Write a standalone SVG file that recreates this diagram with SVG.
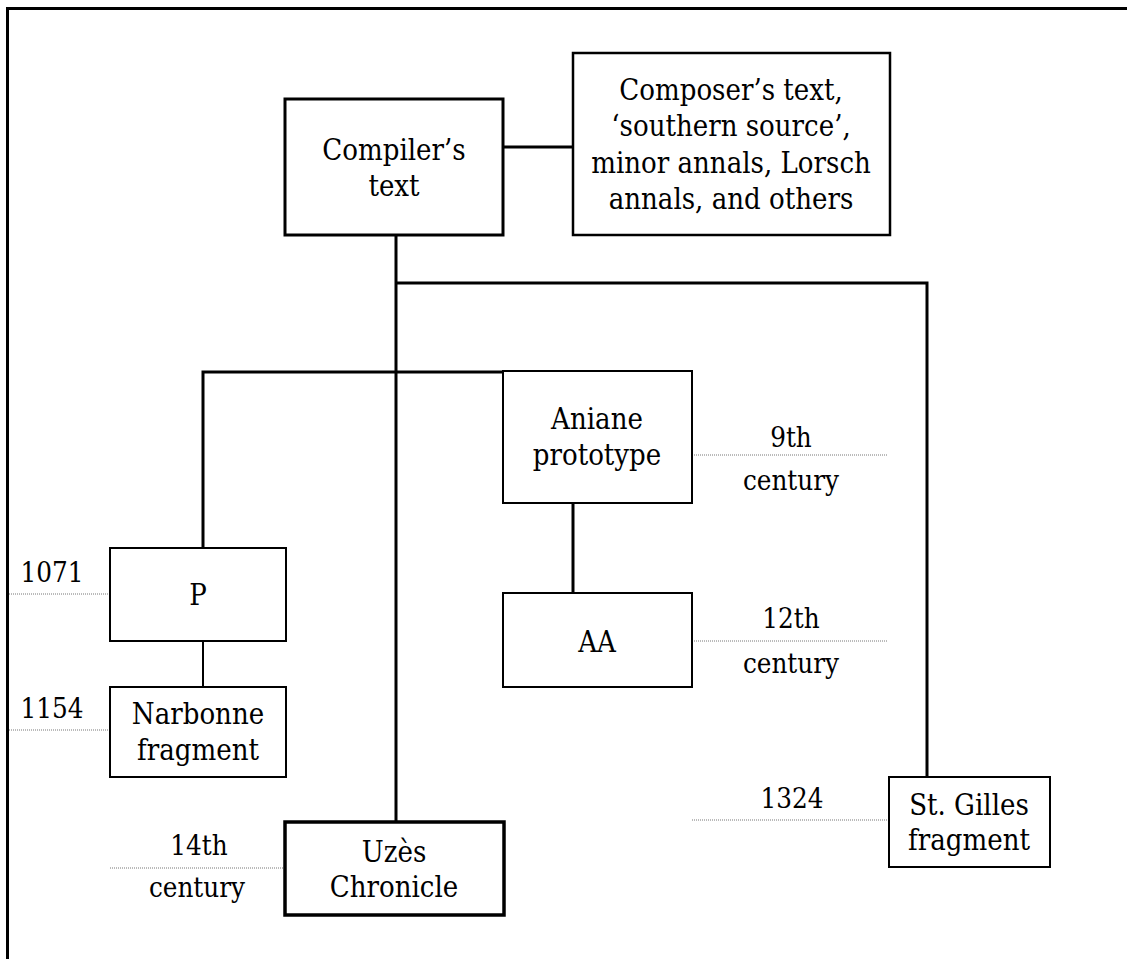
<svg xmlns="http://www.w3.org/2000/svg" width="1127" height="959" viewBox="0 0 1127 959">
<style>
  .box { fill: #fff; stroke: #000; stroke-width: 2; }
  .thick { stroke-width: 3; }
  .heavy { stroke-width: 3.5; }
  .mid { stroke-width: 2.5; }
  .con { stroke: #000; stroke-width: 3; fill: none; }
  .thin { stroke-width: 2; }
  .dot { stroke: #777; stroke-width: 1; stroke-dasharray: 1 1; fill: none; }
  text { font-family: 'DejaVu Serif Condensed', 'DejaVu Serif', serif; font-stretch: condensed; font-size: 29px; fill: #000; text-anchor: middle; }
  #dates text { font-size: 27.5px; }
</style>
<rect width="1127" height="959" fill="#fff"/>
<g id="frame">
  <path d="M7.5 959 V8.5 H1127" fill="none" stroke="#000" stroke-width="3"/>
</g>
<g id="connectors">
  <line class="con" x1="503" y1="147" x2="573" y2="147"/>
  <line class="con" x1="396" y1="235" x2="396" y2="822"/>
  <polyline class="con" points="396,283 927,283 927,777"/>
  <polyline class="con" points="502,372 203,372 203,548"/>
  <line class="con" x1="573" y1="503" x2="573" y2="593"/>
  <line class="con thin" x1="203" y1="641" x2="203" y2="687"/>
</g>
<g id="datelines">
  <line class="dot" x1="692" y1="455" x2="888" y2="455"/>
  <line class="dot" x1="692" y1="641" x2="888" y2="641"/>
  <line class="dot" x1="9" y1="594" x2="110" y2="594"/>
  <line class="dot" x1="9" y1="730" x2="110" y2="730"/>
  <line class="dot" x1="110" y1="868" x2="285" y2="868"/>
  <line class="dot" x1="692" y1="820" x2="889" y2="820"/>
</g>
<g id="compiler">
  <rect class="box thick" x="285" y="99" width="218" height="136"/>
  <text x="394" y="160">Compiler’s</text>
  <text x="394" y="196">text</text>
</g>
<g id="composer">
  <rect class="box mid" x="573" y="53" width="317" height="182"/>
  <text x="731" y="100">Composer’s text,</text>
  <text x="731" y="136">‘southern source’,</text>
  <text x="731" y="173">minor annals, Lorsch</text>
  <text x="731" y="209">annals, and others</text>
</g>
<g id="aniane">
  <rect class="box" x="503" y="371" width="189" height="132"/>
  <text x="597" y="429">Aniane</text>
  <text x="597" y="465">prototype</text>
</g>
<g id="aa">
  <rect class="box" x="503" y="593" width="189" height="94"/>
  <text x="597" y="652">AA</text>
</g>
<g id="p">
  <rect class="box" x="110" y="548" width="176" height="93"/>
  <text x="198" y="605">P</text>
</g>
<g id="narbonne">
  <rect class="box" x="110" y="687" width="176" height="90"/>
  <text x="198" y="724">Narbonne</text>
  <text x="198" y="760">fragment</text>
</g>
<g id="uzes">
  <rect class="box heavy" x="285" y="822" width="219" height="93"/>
  <text x="394" y="862">Uzès</text>
  <text x="394" y="897">Chronicle</text>
</g>
<g id="stgilles">
  <rect class="box" x="889" y="777" width="161" height="90"/>
  <text x="969" y="815">St. Gilles</text>
  <text x="969" y="850">fragment</text>
</g>
<g id="dates">
  <text x="791" y="447">9th</text>
  <text x="791" y="490">century</text>
  <text x="791" y="628">12th</text>
  <text x="791" y="673">century</text>
  <text x="52" y="582">1071</text>
  <text x="52" y="718">1154</text>
  <text x="199" y="855">14th</text>
  <text x="197" y="897">century</text>
  <text x="792" y="808">1324</text>
</g>
</svg>
